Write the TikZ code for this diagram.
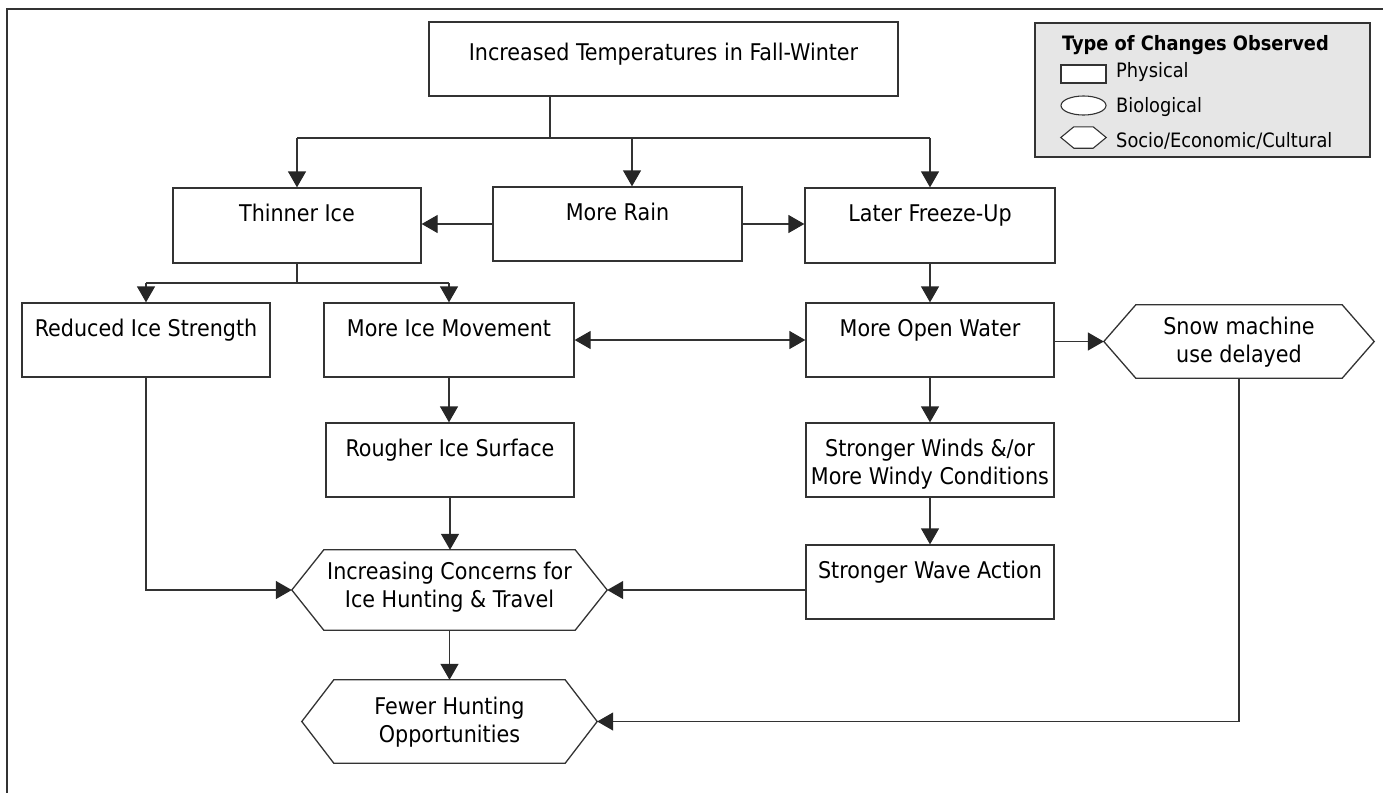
\documentclass[tikz,border=0pt]{standalone}
\usepackage{fontspec}
\setmainfont{DejaVu Sans Condensed}
\usetikzlibrary{arrows.meta, shapes.geometric}
\definecolor{linegray}{HTML}{333333}
\definecolor{leggray}{HTML}{E6E6E6}
\tikzstyle{box} = [draw=linegray, line width=1.3pt, inner sep=0pt, minimum width=248pt, text height=33pt, text depth=42pt, align=center, font=\fontsize{23}{28}\selectfont]
\tikzstyle{hexnode} = [inner sep=0pt, align=center, font=\fontsize{23}{28}\selectfont]
\tikzstyle{hexline} = [draw=linegray, line width=1.3pt]
\tikzstyle{line} = [draw=linegray, line width=1.3pt]
\tikzstyle{arr} = [line, -{Triangle[length=16pt, width=18pt, color=black!85]}]
\tikzstyle{dblarr} = [line, {Triangle[length=16pt, width=18pt, color=black!85]}-{Triangle[length=16pt, width=18pt, color=black!85]}]
\tikzstyle{legtext} = [anchor=base west, inner sep=0pt, font=\fontsize{19.8}{24}\selectfont]
\newcommand{\hexframe}[3][]{\draw[hexline, #1] (#2.west) -- ([xshift=#3]#2.north west) -- ([xshift=-#3]#2.north east) -- (#2.east) -- ([xshift=-#3]#2.south east) -- ([xshift=#3]#2.south west) -- cycle;}

\begin{document}
\begin{tikzpicture}[x=1pt, y=-1pt]
	\useasboundingbox (0,0) rectangle (1383,793);
	\draw[linegray, line width=2.8pt] (1383,9) -- (7,9) -- (7,793);

	% legend
	\node [draw=linegray, fill=leggray, line width=1.3pt, inner sep=0pt, minimum width=335pt, minimum height=134pt] (legend) at (1202.5,90) {};
	\node [anchor=base, inner sep=0pt, font=\bfseries\fontsize{19.8}{24}\selectfont] (legtitle) at (1195.5,50) {Type of Changes Observed};
	\node [draw=linegray, fill=white, line width=1.1pt, inner sep=0pt, minimum width=45pt, minimum height=18pt] (legphys) at (1083.5,74) {};
	\node [ellipse, draw=linegray, fill=white, line width=1.1pt, inner sep=0pt, minimum width=45pt, minimum height=19pt] (legbio) at (1083.5,105.5) {};
	\node [inner sep=0pt, minimum width=45pt, minimum height=21pt] (legsoc) at (1083.5,137.5) {};
	\hexframe[fill=white, line width=1.1pt]{legsoc}{13pt}
	\node [legtext] (physlab) at (1116,77) {Physical};
	\node [legtext] (biolab) at (1116,112) {Biological};
	\node [legtext] (soclab) at (1116,147) {Socio/Economic/Cultural};

	% boxes
	\node [box, minimum width=469pt, text height=38pt, text depth=36pt] (temp) at (663.5,59) {Increased Temperatures in Fall-Winter};
	\node [box] (thin) at (297,225.5) {Thinner Ice};
	\node [box, minimum width=249pt, text depth=41pt] (rain) at (617.5,224) {More Rain};
	\node [box, minimum width=250pt] (freeze) at (930,225.5) {Later Freeze-Up};
	\node [box, text depth=41pt] (strength) at (146,340) {Reduced Ice Strength};
	\node [box, minimum width=250pt, text depth=41pt] (movement) at (449,340) {More Ice Movement};
	\node [box, text depth=41pt] (openwater) at (930,340) {More Open Water};
	\node [hexnode, minimum width=270pt, text height=57pt, text depth=16pt] (snow) at (1239,341.5) {Snow machine\\use delayed};
	\node [box, text depth=41pt] (rough) at (450,460) {Rougher Ice Surface};
	\node [box, text height=61pt, text depth=13pt] (winds) at (930,460) {Stronger Winds \&/or\\More Windy Conditions};
	\node [box, text depth=41pt] (waves) at (930,582) {Stronger Wave Action};
	\node [hexnode, minimum width=315pt, text height=57pt, text depth=23pt] (concerns) at (449.5,590) {Increasing Concerns for\\Ice Hunting \& Travel};
	\node [hexnode, minimum width=295pt, text height=62pt, text depth=21pt] (fewer) at (449.5,721.5) {Fewer Hunting\\Opportunities};
	\hexframe{snow}{32pt}
	\hexframe{concerns}{32pt}
	\hexframe{fewer}{32pt}

	\coordinate (split) at (550,138);
	\coordinate (raindrop) at (632,138);
	\coordinate (thinsplit) at (297,283);

	% connectors
	\path [line] (temp.south -| split) -- (split);
	\path [line] (thin |- split) -- (freeze |- split);
	\draw [arr] (thin |- split) -- (thin.north);
	\draw [arr] (raindrop) -- (raindrop |- rain.north);
	\draw [arr] (freeze |- split) -- (freeze.north);
	\draw [arr] (rain.west) -- (rain.west -| thin.east);
	\draw [arr] (rain.east) -- (rain.east -| freeze.west);
	\draw [arr] (freeze.south) -- (openwater.north);
	\path [line] (thin.south) -- (thinsplit);
	\path [line] (strength |- thinsplit) -- (movement |- thinsplit);
	\draw [arr] (strength |- thinsplit) -- (strength.north);
	\draw [arr] (movement |- thinsplit) -- (movement.north);
	\draw [dblarr] (movement.east) -- (openwater.west);
	\draw [arr] (snow.west -| openwater.east) -- (snow.west);
	\draw [arr] (movement.south) -- (movement.south |- rough.north);
	\draw [arr] (openwater.south) -- (winds.north);
	\draw [arr] (winds.south) -- (waves.north);
	\draw [arr] (rough.south) -- (rough.south |- concerns.north);
	\draw [arr] (strength.south) |- (concerns.west);
	\draw [arr] (waves.west |- concerns.east) -- (concerns.east);
	\draw [arr] (concerns.south) -- (fewer.north);
	\draw [arr] (snow.south) |- (fewer.east);
\end{tikzpicture}
\end{document}
